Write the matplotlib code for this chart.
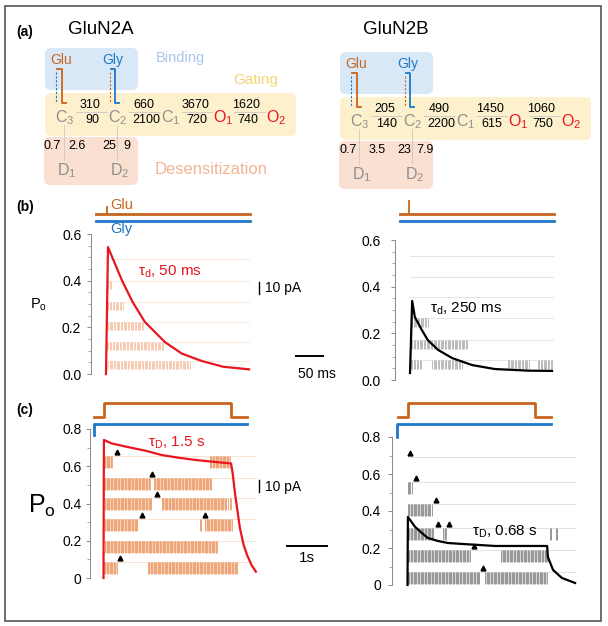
import numpy as np
import matplotlib
matplotlib.use("Agg")
import matplotlib.pyplot as plt
from matplotlib.patches import FancyBboxPatch, Rectangle
from matplotlib.ticker import FixedLocator

W, H = 608, 626

plt.rcParams["font.family"] = ["Liberation Sans", "DejaVu Sans"]
plt.rcParams["mathtext.fontset"] = "custom"
plt.rcParams["mathtext.rm"] = "Liberation Sans"
plt.rcParams["mathtext.it"] = "Liberation Sans:italic"
plt.rcParams["mathtext.default"] = "regular"

ORANGE = "#c8641e"
BLUE = "#1f78c8"
RED = "#e8161e"
STATE_GREY = "#8f8f8f"

# kinetic schemes (rates in s^-1)
STATES = ["C$_3$", "C$_2$", "C$_1$", "O$_1$", "O$_2$"]
N2A_FWD = ["310", "660", "3670", "1620"]
N2A_BWD = ["90", "2100", "720", "740"]
N2A_DES = ["0.7", "2.6", "25", "9"]
N2B_FWD = ["205", "490", "1450", "1060"]
N2B_BWD = ["140", "2200", "615", "750"]
N2B_DES = ["0.7", "3.5", "23", "7.9"]

# (b) brief Glu pulse, time in ms
B_2A_T = [0, 3.7, 13.6, 30, 49, 72, 109, 140, 177, 217, 265]
B_2A_PO = [0.0, 0.544, 0.489, 0.399, 0.31, 0.223, 0.137, 0.088, 0.056, 0.031, 0.02]
B_2B_T = [0, 4, 9, 22, 33, 52, 78, 115, 157, 219, 263]
B_2B_PO = [0.03, 0.339, 0.27, 0.214, 0.171, 0.129, 0.094, 0.064, 0.047, 0.040, 0.039]

B_2A_BASE = [0.493, 0.399, 0.309, 0.223, 0.137, 0.056]
B_2A_BURSTS = [[], [(2, 11)], [(2, 31)], [(4, 69)], [(2, 106)], [(4, 156)]]
B_2B_BASE = [0.531, 0.441, 0.356, 0.266, 0.171, 0.086]
B_2B_BURSTS = [[], [], [], [(4, 33)], [(2, 107)],
               [(2, 19), (41, 96), (181, 220), (237, 263)]]
B_SWEEP_END = 265

# (c) long Glu application, time in s
C_2A_T = [0, 0.01, 0.2, 0.61, 1.04, 1.46, 1.87, 2.29, 2.7, 3.19,
          3.23, 3.29, 3.41, 3.5, 3.59, 3.7, 3.81]
C_2A_PO = [0, 0.741, 0.723, 0.703, 0.684, 0.660, 0.646, 0.634, 0.625, 0.615,
           0.56, 0.45, 0.268, 0.18, 0.123, 0.07, 0.034]
C_2B_T = [0, 0.01, 0.19, 0.36, 0.51, 0.76, 1.01, 1.36, 2.19, 3.49,
          3.51, 3.64, 3.86, 4.19]
C_2B_PO = [0, 0.368, 0.314, 0.281, 0.254, 0.238, 0.227, 0.222, 0.211, 0.211,
           0.151, 0.081, 0.038, 0.011]

C_2A_BASE = [0.655, 0.537, 0.43, 0.317, 0.199, 0.086]
C_2A_BURSTS = [[(0.04, 0.21), (2.66, 3.16)],
               [(0.04, 1.16), (1.26, 2.71)],
               [(0.04, 1.21), (1.46, 3.09), (3.16, 3.19)],
               [(0.04, 0.86), (2.41, 2.46), (2.54, 3.21)],
               [(0.04, 2.84)],
               [(0.01, 0.34), (1.11, 3.34)]]
C_2A_ARROWS = [[0.34], [1.21], [1.34], [0.96, 2.54], [], [0.41]]
C_2A_END = 3.81

C_2B_BASE = [0.692, 0.557, 0.438, 0.308, 0.189, 0.07]
C_2B_BURSTS = [[], [(0.0, 0.09)], [(0.01, 0.59)],
               [(0.01, 0.64), (0.89, 0.96), (3.56, 3.61), (3.71, 3.76)],
               [(0.01, 1.56), (2.34, 3.49)],
               [(0.01, 1.81), (1.94, 3.49)]]
C_2B_ARROWS = [[0.06], [0.21], [0.71], [0.76, 1.04], [1.66], [1.89]]
C_2B_END = 4.19

# application protocols (0 = off, 1 = on)
B_PROT_T = [-18.5, 266.7]
B_GLU_PULSE = 1.0
C_GLU_T = [-0.25, 0.0, 0.0, 3.19, 3.19, 3.58]
C_GLU_ON = [0, 0, 1, 1, 0, 0]

fig = plt.figure(figsize=(W / 100, H / 100), dpi=100)
ov = fig.add_axes([0, 0, 1, 1])
ov.set_xlim(0, W)
ov.set_ylim(H, 0)
ov.axis("off")

ov.add_patch(Rectangle((5, 6), 596, 615, fill=False, ec="#555555", lw=1.2))


def rbox(x0, y0, x1, y1, color):
    ov.add_patch(FancyBboxPatch((x0, y0), x1 - x0, y1 - y0,
                                boxstyle="round,pad=0,rounding_size=6",
                                fc=color, ec="none", zorder=1))


def draw_scheme(dx, dy, title, fwd, bwd, des, des_x, labels):
    ov.text(68 + dx, 29, title, fontsize=13.5, va="center", ha="left")
    rbox(45 + dx, 48 + dy, 138 + dx, 90 + dy, "#d9e8f6")
    rbox(45 + dx, 93 + dy, 296 + dx, 136 + dy, "#fdf1cd")
    rbox(44 + dx, 137 + dy, 138 + dx, 185 + dy, "#f9e0d1")
    if labels:
        ov.text(180, 58, "Binding", color="#a8c6ea", fontsize=10.5, ha="center", va="center")
        ov.text(256, 80, "Gating", color="#f5d474", fontsize=11, ha="center", va="center")
        ov.text(211, 170, "Desensitization", color="#f1b594", fontsize=12, ha="center", va="center")
    ov.text(61 + dx, 60 + dy, "Glu", color=ORANGE, fontsize=10, ha="center", va="center", zorder=3)
    ov.text(113 + dx, 60 + dy, "Gly", color=BLUE, fontsize=10, ha="center", va="center", zorder=3)
    # binding brackets
    ov.plot(np.array([57, 62, 62, 66]) + dx, np.array([69, 69, 103, 103]) + dy,
            color=ORANGE, lw=1.3, zorder=3)
    ov.plot([56 + dx, 56 + dx], [72 + dy, 102 + dy], color=BLUE, lw=0.8, ls=(0, (2, 1.5)), zorder=3)
    ov.plot(np.array([111, 115, 115, 119]) + dx, np.array([69, 69, 103, 103]) + dy,
            color=BLUE, lw=1.3, zorder=3)
    ov.plot([110 + dx, 110 + dx], [72 + dy, 102 + dy], color=ORANGE, lw=0.8, ls=(0, (2, 1.5)), zorder=3)
    state_x = [65, 118, 171, 223, 276]
    for i, s in enumerate(STATES):
        col = RED if s.startswith("O") else STATE_GREY
        ov.text(state_x[i] + dx, 118 + dy, s, color=col, fontsize=11.5, ha="center", va="center", zorder=3)
    rate_x = [90, 144, 195, 246]
    for i in range(4):
        ov.plot([state_x[i] + 11 + dx, state_x[i + 1] - 11 + dx], [112 + dy, 112 + dy],
                color="#c8c8c8", lw=0.6, zorder=2)
        ov.text(rate_x[i] + dx, 105 + dy, fwd[i], fontsize=9, ha="center", va="center", zorder=3)
        ov.text(rate_x[i] + 2 + dx, 120 + dy, bwd[i], fontsize=9, ha="center", va="center", zorder=3)
    for xv in (64, 117):
        ov.plot([xv + dx, xv + dx], [125 + dy, 160 + dy], color="#c8c8c8", lw=0.6, zorder=2)
    for xv, txt in zip(des_x, des):
        ov.text(xv + dx, 146 + dy, txt, fontsize=9, ha="center", va="center", zorder=3)
    ov.text(67 + dx, 171 + dy, "D$_1$", color=STATE_GREY, fontsize=11.5, ha="center", va="center", zorder=3)
    ov.text(120 + dx, 171 + dy, "D$_2$", color=STATE_GREY, fontsize=11.5, ha="center", va="center", zorder=3)


ov.text(16, 32, "(a)", fontsize=10, fontweight="bold", va="center")
ov.text(16, 207, "(b)", fontsize=10, fontweight="bold", va="center")
ov.text(16, 410, "(c)", fontsize=10, fontweight="bold", va="center")
draw_scheme(0, 0, "GluN2A", N2A_FWD, N2A_BWD, N2A_DES, [52, 77, 109, 127], True)
draw_scheme(295, 4, "GluN2B", N2B_FWD, N2B_BWD, N2B_DES, [53, 82, 109, 130], False)

ov.text(39, 305, "P$_o$", fontsize=10.5, ha="center", va="center")
ov.text(42, 506, "P$_o$", fontsize=18, ha="center", va="center")
ov.text(110, 205, "Glu", color=ORANGE, fontsize=10.5, va="center")
ov.text(110, 229, "Gly", color=BLUE, fontsize=10.5, va="center")


def make_axes(box, x_origin, x_scale, y_origin, y_scale):
    left, right, top, bottom = box
    ax = fig.add_axes([left / W, 1 - bottom / H, (right - left) / W, (bottom - top) / H])
    ax.set_xlim((left - x_origin) / x_scale, (right - x_origin) / x_scale)
    ax.set_ylim((y_origin - bottom) / y_scale, (y_origin - top) / y_scale)
    ax.patch.set_visible(False)
    for side in ("top", "right", "bottom"):
        ax.spines[side].set_visible(False)
    ax.spines["left"].set_color("#8a8a8a")
    ax.spines["left"].set_linewidth(0.7)
    ax.set_xticks([])
    return ax


def style_y(ax, top, labels, minor, pad):
    ax.spines["left"].set_bounds(0, top)
    ticks = [float(v) for v in labels]
    ax.set_yticks(ticks)
    ax.set_yticklabels(labels)
    ax.yaxis.set_minor_locator(FixedLocator(np.arange(0, top + 1e-6, minor)))
    ax.tick_params(axis="y", which="major", length=3, width=0.7, color="#8a8a8a",
                   labelsize=10, pad=pad)
    ax.tick_params(axis="y", which="minor", length=2, width=0.6, color="#9a9a9a")


def draw_sweeps(ax, bases, bursts, t_end, depth, base_col, fill_col, tick_col, step, lw):
    for base, segs in zip(bases, bursts):
        ax.plot([0, t_end], [base, base], color=base_col, lw=0.7, zorder=1)
        for a, b in segs:
            if fill_col is not None:
                ax.add_patch(Rectangle((a, base - depth), b - a, depth, fc=fill_col, ec="none", zorder=1))
            ticks = np.arange(a, b + step * 0.5, step)
            ax.vlines(ticks, base - depth, base, color=tick_col, lw=lw, zorder=2)


# ---- (b) left, GluN2A
ax = make_axes((91, 340, 195, 380), 106, 0.54, 374, 233.3)
style_y(ax, 0.6, ["0.0", "0.2", "0.4", "0.6"], 0.05, 4)
draw_sweeps(ax, B_2A_BASE, B_2A_BURSTS, B_SWEEP_END, 0.034,
            "#fbe8dc", None, "#f5c2a4", 2.6, 0.6)
ax.plot(B_2A_T, B_2A_PO, color=RED, lw=1.6, zorder=4, clip_on=False)
ax.plot(B_PROT_T, [0.686, 0.686], color=ORANGE, lw=2, clip_on=False)
ax.plot([B_GLU_PULSE, B_GLU_PULSE], [0.686, 0.716], color=ORANGE, lw=1.3, clip_on=False)
ax.plot(B_PROT_T, [0.656, 0.656], color=BLUE, lw=2, clip_on=False)
ax.text(60, 0.437, "τ$_d$, 50 ms", color=RED, fontsize=11, va="center", zorder=5)
ax.plot([283, 283], [0.343, 0.394], color="black", lw=1, clip_on=False)
ax.text(294, 0.368, "10 pA", fontsize=10, va="center")
ax.plot([352, 402], [0.077, 0.077], color="black", lw=1.4, clip_on=False)
ax.text(391, 0.0, "50 ms", fontsize=10, ha="center", va="center")

# ---- (b) right, GluN2B
ax = make_axes((395, 600, 195, 385), 410, 0.54, 380, 233.3)
style_y(ax, 0.6, ["0.0", "0.2", "0.4", "0.6"], 0.05, 7)
draw_sweeps(ax, B_2B_BASE, B_2B_BURSTS, B_SWEEP_END, 0.04,
            "#e4e4e4", None, "#b0b0b0", 2.6, 0.6)
ax.plot(B_2B_T, B_2B_PO, color="black", lw=1.6, zorder=4)
ax.plot(B_PROT_T, [0.711, 0.711], color=ORANGE, lw=2, clip_on=False)
ax.plot([-1.0, -1.0], [0.711, 0.767], color=ORANGE, lw=1.3, clip_on=False)
ax.plot(B_PROT_T, [0.682, 0.682], color=BLUE, lw=2, clip_on=False)
ax.text(37, 0.305, "τ$_d$, 250 ms", color="black", fontsize=11, va="center", zorder=5)

# ---- (c) left, GluN2A
ax = make_axes((90, 340, 395, 592), 103.5, 40, 578, 186.25)
style_y(ax, 0.8, ["0", "0.2", "0.4", "0.6", "0.8"], 0.1, 3)
draw_sweeps(ax, C_2A_BASE, C_2A_BURSTS, C_2A_END, 0.064,
            "#fbe3d3", "#f8d0b5", "#ec9e6e", 0.035, 0.6)
for base, arr in zip(C_2A_BASE, C_2A_ARROWS):
    ax.plot(arr, [base + 0.02] * len(arr), ls="none", marker="^", ms=3.5, color="black", zorder=5)
ax.plot(C_2A_T, C_2A_PO, color=RED, lw=1.6, zorder=4)
glu = np.array(C_GLU_ON)
ax.plot(C_GLU_T, 0.864 + 0.076 * glu, color=ORANGE, lw=2, clip_on=False)
ax.plot([-0.24, -0.24, 3.59], [0.768, 0.827, 0.827], color=BLUE, lw=2, clip_on=False)
ax.text(1.12, 0.725, "τ$_D$, 1.5 s", color=RED, fontsize=11, va="center", zorder=5)
ax.plot([3.89, 3.89], [0.462, 0.526], color="black", lw=1, clip_on=False)
ax.text(4.04, 0.489, "10 pA", fontsize=10, va="center")
ax.plot([4.59, 5.59], [0.172, 0.172], color="black", lw=1.4, clip_on=False)
ax.text(5.09, 0.107, "1s", fontsize=11, ha="center", va="center")

# ---- (c) right, GluN2B
ax = make_axes((392, 600, 395, 598), 407.5, 40, 585, 185)
style_y(ax, 0.8, ["0", "0.2", "0.4", "0.6", "0.8"], 0.1, 5)
draw_sweeps(ax, C_2B_BASE, C_2B_BURSTS, C_2B_END, 0.064,
            "#e2e2e2", "#d6d6d6", "#8c8c8c", 0.035, 0.6)
for base, arr in zip(C_2B_BASE, C_2B_ARROWS):
    ax.plot(arr, [base + 0.02] * len(arr), ls="none", marker="^", ms=3.5, color="black", zorder=5)
ax.plot(C_2B_T, C_2B_PO, color="black", lw=1.6, zorder=4)
ax.plot(C_GLU_T, 0.908 + 0.076 * glu, color=ORANGE, lw=2, clip_on=False)
ax.plot([-0.26, -0.26, 3.59], [0.8, 0.87, 0.87], color=BLUE, lw=2, clip_on=False)
ax.text(1.6, 0.285, "τ$_D$, 0.68 s", color="black", fontsize=11, va="center", zorder=5)

fig.savefig("out.png", dpi=100)
